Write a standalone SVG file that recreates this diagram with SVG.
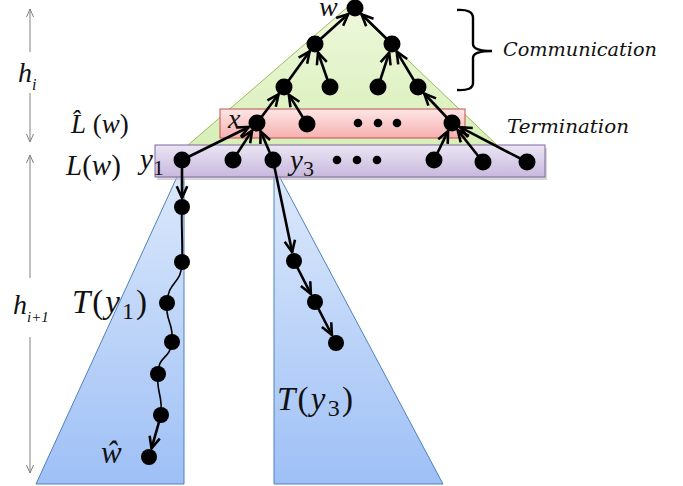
<svg xmlns="http://www.w3.org/2000/svg" width="683" height="486" viewBox="0 0 683 486">
<defs>
<linearGradient id="gBlue" x1="0" y1="0" x2="0" y2="1"><stop offset="0" stop-color="#dde9fb"/><stop offset="1" stop-color="#9ec0f6"/></linearGradient>
<linearGradient id="gGreen" x1="0" y1="0" x2="0" y2="1"><stop offset="0" stop-color="#eef8dc"/><stop offset="1" stop-color="#d8efb8"/></linearGradient>
<linearGradient id="gRed" x1="0" y1="0" x2="0" y2="1"><stop offset="0" stop-color="#fde6e6"/><stop offset="1" stop-color="#f7b0b0"/></linearGradient>
<linearGradient id="gPurple" x1="0" y1="0" x2="0" y2="1"><stop offset="0" stop-color="#ebe5f3"/><stop offset="1" stop-color="#c8b8de"/></linearGradient>
<marker id="ah" markerUnits="userSpaceOnUse" markerWidth="14" markerHeight="14" viewBox="0 0 12 12" refX="11" refY="6" orient="auto"><path d="M1,1.5 L11,6 L1,10.5" fill="none" stroke="#000" stroke-width="2.2"/></marker>
<marker id="ga" markerUnits="userSpaceOnUse" markerWidth="10" markerHeight="10" viewBox="0 0 10 10" refX="9" refY="5" orient="auto"><path d="M1,1.5 L9,5 L1,8.5" fill="none" stroke="#808080" stroke-width="1"/></marker>
</defs>
<style>
.n{fill:#000}
.e{stroke:#000;stroke-width:2.6;fill:none;marker-end:url(#ah)}
.w{stroke:#000;stroke-width:1.6;fill:none}
.m{font-family:"Liberation Serif","DejaVu Serif",serif;font-style:italic;fill:#111}
.u{font-style:normal}
.lbl{font-family:"DejaVu Serif","Liberation Serif",serif;font-style:italic;fill:#111}
.g{stroke:#808080;stroke-width:1;fill:none}
</style>
<g id="regions">
<polygon id="tri-y1" points="182,166 36,484 184,484 184,170" fill="url(#gBlue)" stroke="#4f81bd" stroke-width="1"/>
<polygon id="tri-y3" points="274,172 274,484 443,484 277,172" fill="url(#gBlue)" stroke="#4f81bd" stroke-width="1"/>
<polygon id="tri-w" points="350,5 187,146 498,146" fill="url(#gGreen)" stroke="#9bbb59" stroke-width="1"/>
<rect id="band-lhat" x="220" y="109" width="245" height="29" fill="url(#gRed)" stroke="#c0504d" stroke-width="1"/>
<rect x="157" y="148" width="390" height="32" fill="#bbbbbb" opacity="0.6"/>
<rect id="band-l" x="155" y="145" width="390" height="32" fill="url(#gPurple)" stroke="#8064a2" stroke-width="1"/>
</g>
<g id="connectors">
<line class="e" x1="315" y1="44" x2="348.3" y2="14"/>
<line class="e" x1="392" y1="44" x2="361.5" y2="14.3"/>
<line class="e" x1="284" y1="87" x2="309.7" y2="51.3"/>
<line class="e" x1="330" y1="87" x2="318" y2="52.5"/>
<line class="e" x1="378" y1="87" x2="389.2" y2="52.6"/>
<line class="e" x1="418" y1="87" x2="396.7" y2="51.7"/>
<line class="e" x1="257" y1="123" x2="278.6" y2="94.2"/>
<line class="e" x1="307" y1="124" x2="288.8" y2="94.6"/>
<line class="e" x1="452" y1="123" x2="424.2" y2="93.5"/>
<line class="e" x1="182" y1="160" x2="248.9" y2="127"/>
<line class="e" x1="233" y1="160" x2="252.1" y2="130.6"/>
<line class="e" x1="273" y1="160" x2="260.6" y2="131.3"/>
<line class="e" x1="434" y1="160" x2="448.1" y2="131.1"/>
<line class="e" x1="483" y1="162" x2="457.6" y2="130"/>
<line class="e" x1="527" y1="162" x2="460" y2="127.2"/>
<line class="e" x1="182" y1="160" x2="182" y2="198"/>
<line class="e" x1="273" y1="160" x2="292.2" y2="252.2"/>
<line class="e" x1="294" y1="261" x2="310.9" y2="294"/>
<line class="e" x1="315" y1="302" x2="331.9" y2="335"/>
<line class="e" x1="161" y1="415" x2="151.5" y2="448.4"/>
<path class="w" style="stroke-width:2" d="M182,207 C181,225 183,245 182,262"/>
<path class="w" d="M182,262 C182,285 168,280 167,303"/>
<path class="w" d="M167,303 C165,322 174,322 172,342"/>
<path class="w" d="M172,342 C170,360 158,355 158,374"/>
<path class="w" d="M158,374 C156,392 163,395 161,415"/>
</g>
<g id="nodes">
<circle id="n-w" class="n" cx="355" cy="8" r="8.5"/>
<circle id="n-a" class="n" cx="315" cy="44" r="8.5"/>
<circle id="n-b" class="n" cx="392" cy="44" r="8.5"/>
<circle id="n-c" class="n" cx="284" cy="87" r="8.5"/>
<circle id="n-d" class="n" cx="330" cy="87" r="8.5"/>
<circle id="n-e" class="n" cx="378" cy="87" r="8.5"/>
<circle id="n-f" class="n" cx="418" cy="87" r="8.5"/>
<circle id="n-x" class="n" cx="257" cy="123" r="8.5"/>
<circle id="n-g" class="n" cx="307" cy="124" r="8.5"/>
<g id="dots-lhat"><circle class="n" cx="358" cy="123" r="4.3"/><circle class="n" cx="378" cy="123" r="4.3"/><circle class="n" cx="397" cy="123" r="4.3"/></g>
<circle id="n-h" class="n" cx="452" cy="123" r="8.5"/>
<circle id="n-y1" class="n" cx="182" cy="160" r="8.5"/>
<circle id="n-i" class="n" cx="233" cy="160" r="8.5"/>
<circle id="n-y3" class="n" cx="273" cy="160" r="8.5"/>
<g id="dots-l"><circle class="n" cx="337" cy="160" r="4.3"/><circle class="n" cx="357" cy="160" r="4.3"/><circle class="n" cx="377" cy="160" r="4.3"/></g>
<circle id="n-j" class="n" cx="434" cy="160" r="8.5"/>
<circle id="n-k" class="n" cx="483" cy="162" r="8.5"/>
<circle id="n-l" class="n" cx="527" cy="162" r="8.5"/>
<circle id="n-p1" class="n" cx="182" cy="207" r="8"/>
<circle id="n-p2" class="n" cx="182" cy="262" r="8"/>
<circle id="n-p3" class="n" cx="167" cy="303" r="8"/>
<circle id="n-p4" class="n" cx="172" cy="342" r="8"/>
<circle id="n-p5" class="n" cx="158" cy="374" r="8"/>
<circle id="n-p6" class="n" cx="161" cy="415" r="8"/>
<circle id="n-what" class="n" cx="149" cy="457" r="8"/>
<circle id="n-q1" class="n" cx="294" cy="261" r="8"/>
<circle id="n-q2" class="n" cx="315" cy="302" r="8"/>
<circle id="n-q3" class="n" cx="336" cy="343" r="8"/>
</g>
<g id="labels">
<text class="m" x="319" y="16" font-size="28">w</text>
<text class="m" x="228" y="128" font-size="28">x</text>
<text class="m" x="140" y="169" font-size="29">y<tspan class="u" font-size="22" dy="6">1</tspan></text>
<text class="m" x="290" y="170" font-size="29">y<tspan class="u" font-size="22" dy="6">3</tspan></text>
<text class="m" x="71" y="133" font-size="27">L&#770;<tspan class="u"> (</tspan>w<tspan class="u">)</tspan></text>
<text class="m" x="66" y="175" font-size="29">L<tspan class="u">(</tspan>w<tspan class="u">)</tspan></text>
<text class="m" x="18" y="82" font-size="28">h<tspan font-size="16" dy="8">i</tspan></text>
<text class="m" x="13" y="314" font-size="28">h<tspan font-size="15" dy="8">i+1</tspan></text>
<text class="m" x="72" y="313" font-size="33" textLength="75" lengthAdjust="spacing">T<tspan class="u">(</tspan>y<tspan class="u" font-size="24" dy="6">1</tspan><tspan class="u" dy="-6">)</tspan></text>
<text class="m" x="277" y="410" font-size="33" textLength="76" lengthAdjust="spacing">T<tspan class="u">(</tspan>y<tspan class="u" font-size="24" dy="6">3</tspan><tspan class="u" dy="-6">)</tspan></text>
<text class="m" x="101" y="463" font-size="31">&#373;</text>
<text class="lbl" x="503" y="56" font-size="18" textLength="154" lengthAdjust="spacingAndGlyphs">Communication</text>
<text class="lbl" x="507" y="133" font-size="18" textLength="122" lengthAdjust="spacingAndGlyphs">Termination</text>
</g>
<g id="brace">
<path d="M457,10 Q473,9 473,18 L473,44 Q473,51 492,51 Q473,51 473,58 L473,83 Q473,91 457,90" fill="none" stroke="#000" stroke-width="2.4"/>
</g>
<g id="dimensions">
<line class="g" x1="30" y1="52" x2="30" y2="9" style="marker-end:url(#ga)"/>
<line class="g" x1="30" y1="93" x2="30" y2="142" style="marker-end:url(#ga)"/>
<line class="g" x1="30" y1="278" x2="30" y2="155" style="marker-end:url(#ga)"/>
<line class="g" x1="30" y1="337" x2="30" y2="473" style="marker-end:url(#ga)"/>
</g>
</svg>
